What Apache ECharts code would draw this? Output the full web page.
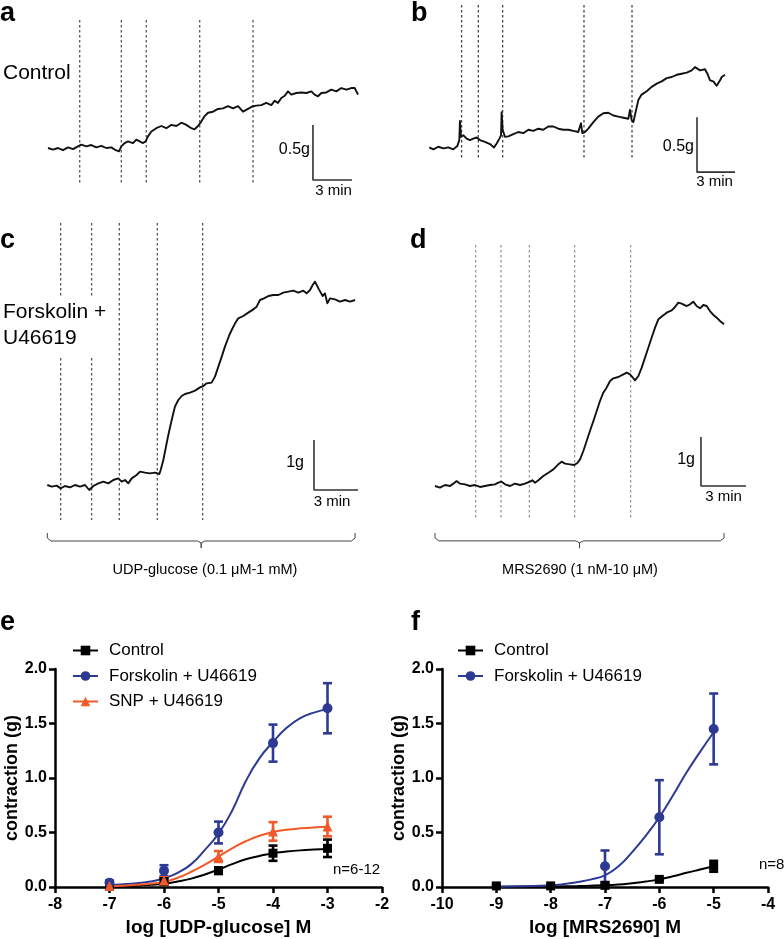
<!DOCTYPE html>
<html><head><meta charset="utf-8">
<script src="https://cdn.jsdelivr.net/npm/echarts@6/dist/echarts.min.js"></script>
<style>html,body{margin:0;padding:0;background:#fff}#c{width:784px;height:939px}</style>
</head><body><div id="c"></div>
<script>
const FONT = '"Liberation Sans", Arial, Helvetica, sans-serif';

// ---------- isometric tension traces: [time (min), tension (g) relative to start] ----------
const traceA = [[0,0],[0.38,-0.015],[0.77,0],[1.15,-0.02],[1.54,0.006],[1.92,-0.01],[2.31,0.015],[2.56,0.03],[2.95,0.015],[3.33,0.027],[3.72,0.006],[4.10,0.02],[4.49,0],[4.87,0.006],[5.21,-0.02],[5.46,-0.03],[5.64,0.015],[5.90,0.045],[6.15,0.06],[6.54,0.045],[6.79,0.076],[7.05,0.06],[7.31,0.045],[7.51,0.06],[7.69,0.106],[7.95,0.15],[8.33,0.18],[8.72,0.20],[9.10,0.18],[9.49,0.21],[9.87,0.20],[10.26,0.23],[10.64,0.21],[11.03,0.18],[11.28,0.17],[11.54,0.20],[11.79,0.24],[12.05,0.29],[12.31,0.32],[12.69,0.33],[13.08,0.355],[13.46,0.36],[13.85,0.38],[14.23,0.36],[14.62,0.38],[15.0,0.33],[15.38,0.355],[15.77,0.38],[16.03,0.385],[16.41,0.39],[16.79,0.41],[17.18,0.39],[17.44,0.43],[17.69,0.41],[17.95,0.455],[18.21,0.475],[18.46,0.515],[18.72,0.485],[19.10,0.50],[19.49,0.505],[19.87,0.50],[20.26,0.515],[20.51,0.485],[20.77,0.47],[21.03,0.50],[21.41,0.505],[21.79,0.53],[22.18,0.515],[22.56,0.545],[22.95,0.53],[23.33,0.545],[23.59,0.545],[23.85,0.485]];
const traceB = [[0,0],[0.32,-0.018],[0.71,0.006],[1.11,-0.009],[1.50,0],[1.89,-0.018],[2.21,0.012],[2.37,0.067],[2.42,0.24],[2.50,0.097],[2.68,0.11],[2.95,0.08],[3.21,0.067],[3.47,0.08],[3.74,0.09],[4.0,0.067],[4.39,0.05],[4.79,0.03],[5.11,0],[5.32,0.036],[5.53,0.08],[5.66,0.11],[5.71,0.32],[5.79,0.16],[5.97,0.097],[6.24,0.10],[6.63,0.12],[7.03,0.14],[7.42,0.13],[7.82,0.16],[8.21,0.15],[8.61,0.17],[9.0,0.16],[9.39,0.19],[9.79,0.19],[10.18,0.17],[10.58,0.16],[10.97,0.16],[11.37,0.15],[11.76,0.14],[11.97,0.22],[12.08,0.13],[12.29,0.14],[12.55,0.17],[12.95,0.23],[13.34,0.28],[13.74,0.31],[14.13,0.315],[14.53,0.29],[14.92,0.28],[15.32,0.27],[15.71,0.26],[15.84,0.34],[15.97,0.25],[16.11,0.23],[16.32,0.34],[16.5,0.43],[16.76,0.48],[17.16,0.51],[17.55,0.55],[17.95,0.58],[18.34,0.60],[18.74,0.63],[19.13,0.64],[19.53,0.66],[19.92,0.67],[20.32,0.68],[20.71,0.70],[20.97,0.73],[21.37,0.70],[21.76,0.71],[21.95,0.67],[22.16,0.61],[22.42,0.60],[22.68,0.56],[22.95,0.61],[23.08,0.64],[23.34,0.66]];
const traceC = [[0,0],[0.30,-0.033],[0.64,-0.013],[0.91,-0.067],[1.20,-0.02],[1.55,-0.047],[1.89,0],[2.23,-0.033],[2.57,0],[2.86,-0.1],[3.14,-0.02],[3.48,0.033],[3.82,0.067],[4.16,0.033],[4.5,0.1],[4.84,0.133],[5.07,0.067],[5.30,0.1],[5.52,0.033],[5.75,0.133],[6.09,0.2],[6.32,0.267],[6.66,0.247],[7.0,0.233],[7.34,0.247],[7.64,0.22],[7.73,0.3],[7.91,0.5],[8.09,0.767],[8.25,1.0],[8.48,1.3],[8.70,1.567],[8.93,1.70],[9.16,1.78],[9.39,1.82],[9.73,1.847],[10.07,1.887],[10.41,1.953],[10.64,1.98],[10.86,2.033],[11.20,2.047],[11.43,2.167],[11.66,2.367],[11.89,2.567],[12.11,2.767],[12.41,3.0],[12.57,3.1],[12.80,3.233],[13.02,3.333],[13.36,3.38],[13.70,3.447],[14.05,3.513],[14.27,3.567],[14.5,3.70],[14.77,3.733],[15.07,3.78],[15.41,3.80],[15.75,3.80],[16.09,3.847],[16.43,3.867],[16.77,3.887],[17.11,3.847],[17.45,3.887],[17.68,3.833],[17.91,3.90],[18.09,4.0],[18.25,4.067],[18.48,3.933],[18.77,3.78],[18.93,3.833],[19.09,3.633],[19.27,3.733],[19.61,3.713],[19.95,3.667],[20.30,3.70],[20.64,3.667],[20.98,3.70]];
const traceD = [[0,0],[0.33,-0.034],[0.67,0.02],[1.0,0],[1.22,0.048],[1.44,0.10],[1.67,0.048],[2.0,0.034],[2.33,0],[2.67,0.02],[3.0,-0.02],[3.33,0],[3.67,0.02],[4.0,0.034],[4.22,0.068],[4.44,0.088],[4.67,0.034],[5.0,0],[5.33,0.048],[5.67,0.02],[6.0,0.048],[6.33,0.088],[6.49,0.116],[6.67,0.068],[6.89,0.116],[7.22,0.204],[7.56,0.272],[7.89,0.34],[8.22,0.442],[8.44,0.497],[8.67,0.456],[9.0,0.442],[9.29,0.429],[9.51,0.476],[9.67,0.544],[9.89,0.714],[10.11,0.918],[10.33,1.122],[10.56,1.327],[10.78,1.531],[11.0,1.735],[11.22,1.905],[11.44,2.007],[11.67,2.143],[11.89,2.197],[12.22,2.224],[12.56,2.279],[12.78,2.313],[13.0,2.279],[13.16,2.224],[13.33,2.156],[13.56,2.245],[13.78,2.415],[14.0,2.619],[14.22,2.823],[14.44,3.027],[14.67,3.231],[14.89,3.401],[15.16,3.469],[15.44,3.537],[15.78,3.585],[16.0,3.653],[16.22,3.741],[16.44,3.721],[16.78,3.673],[17.0,3.707],[17.22,3.762],[17.44,3.673],[17.67,3.626],[17.89,3.694],[18.11,3.673],[18.33,3.571],[18.56,3.490],[18.78,3.435],[19.0,3.367],[19.27,3.299]];

// agonist addition times (min)
const addsA = [2.44, 5.64, 7.56, 11.67, 15.77];
const addsB = [2.55, 3.87, 5.79, 12.21, 16.0];
const addsC = [0.91, 3.02, 4.91, 7.5, 10.59];
const addsD = [2.71, 4.4, 6.29, 9.31, 13.04];

// ---------- concentration-response data ----------
const logUDP = [-7, -6, -5, -4, -3];
const eCtrlMean = [0.015, 0.05, 0.15, 0.31, 0.355];
const eCtrlSem  = [0.01, 0.03, 0.03, 0.07, 0.08];
const eFskMean  = [0.04, 0.15, 0.5, 1.32, 1.64];
const eFskSem   = [0.02, 0.05, 0.1, 0.17, 0.23];
const eSnpMean  = [0.01, 0.06, 0.28, 0.51, 0.555];
const eSnpSem   = [0.01, 0.03, 0.05, 0.085, 0.09];
// fitted curves
const eCtrlFit = [[-7,0.005],[-6.75,0.008],[-6.5,0.012],[-6.25,0.02],[-6,0.03],[-5.75,0.05],[-5.5,0.077],[-5.25,0.115],[-5,0.16],[-4.75,0.21],[-4.5,0.255],[-4.25,0.285],[-4,0.31],[-3.75,0.325],[-3.5,0.336],[-3.25,0.343],[-3,0.348]];
const eFskFit  = [[-7,0.018],[-6.75,0.025],[-6.5,0.035],[-6.25,0.05],[-6,0.08],[-5.75,0.13],[-5.5,0.21],[-5.25,0.34],[-5,0.49],[-4.75,0.70],[-4.5,0.97],[-4.25,1.18],[-4,1.33],[-3.75,1.46],[-3.5,1.55],[-3.25,1.60],[-3,1.63]];
const eSnpFit  = [[-7,0.006],[-6.75,0.012],[-6.5,0.02],[-6.25,0.03],[-6,0.046],[-5.75,0.085],[-5.5,0.14],[-5.25,0.205],[-5,0.28],[-4.75,0.355],[-4.5,0.42],[-4.25,0.47],[-4,0.505],[-3.75,0.525],[-3.5,0.538],[-3.25,0.547],[-3,0.552]];

const logMRSCtrl = [-9, -8, -7, -6, -5];
const fCtrlMean = [0.01, 0.01, 0.015, 0.07, 0.19];
const fCtrlSem  = [0.005, 0.005, 0.01, 0.01, 0.05];
const logMRSFsk = [-7, -6, -5];
const fFskMean  = [0.19, 0.64, 1.45];
const fFskSem   = [0.145, 0.34, 0.325];
const fCtrlFit = [[-9,0.003],[-8.5,0.004],[-8,0.006],[-7.5,0.009],[-7,0.015],[-6.75,0.022],[-6.5,0.035],[-6.25,0.05],[-6,0.07],[-5.75,0.098],[-5.5,0.13],[-5.25,0.16],[-5,0.19]];
const fFskFit  = [[-9,0.003],[-8.5,0.007],[-8,0.015],[-7.75,0.027],[-7.5,0.046],[-7.25,0.07],[-7,0.107],[-6.75,0.19],[-6.5,0.32],[-6.25,0.47],[-6,0.64],[-5.75,0.84],[-5.5,1.05],[-5.25,1.24],[-5,1.42]];

// ---------- layout ----------
const BLUE = '#2d3a94', ORANGE = '#f15a29', BLACK = '#000';
const grids = [
  {left:48, top:16, width:312, height:176},
  {left:429.3, top:0, width:329.4, height:191.4},
  {left:47.3, top:215, width:337.4, height:340},
  {left:435, top:231.2, width:330, height:323.4},
  {left:55, top:669, width:327, height:218},
  {left:442, top:669, width:326, height:218}
];
const traceLayout = [
  {trace:traceA, adds:addsA, x:[0,24], y:[-0.4,1.2],  dash:[1.164,-0.336], dashColor:'#555', bar:{x:20.38,y:-0.291,w:3,h:0.5}},
  {trace:traceB, adds:addsB, x:[0,26], y:[-0.4,1.34], dash:[1.294,-0.097], dashColor:'#444', bar:{x:21.13,y:-0.225,w:3,h:0.5}},
  {trace:traceC, adds:addsC, x:[0,23], y:[-1.4,5.4],  dash:[5.24,-0.7],    dashColor:'#555', bar:{x:18.18,y:-0.1,w:3,h:1}, brace:[-0.96,-1.12,-1.26]},
  {trace:traceD, adds:addsD, x:[0,22], y:[-1.4,5.2],  dash:[4.92,-0.69],   dashColor:'#999', bar:{x:17.73,y:0,w:3,h:1}, brace:[-0.96,-1.12,-1.27]}
];

const xAxes = [], yAxes = [], series = [];
traceLayout.forEach((p, i) => {
  xAxes.push({type:'value', gridIndex:i, min:p.x[0], max:p.x[1], show:false});
  yAxes.push({type:'value', gridIndex:i, min:p.y[0], max:p.y[1], show:false});
  p.adds.forEach(t => series.push({type:'line', xAxisIndex:i, yAxisIndex:i, silent:true, symbol:'none', z:1,
    data:[[t,p.dash[0]],[t,p.dash[1]]], lineStyle:{color:p.dashColor, width:1.3, type:[2.5,2.5]}}));
  series.push({type:'line', xAxisIndex:i, yAxisIndex:i, silent:true, symbol:'none', z:3,
    data:p.trace, lineStyle:{color:'#111', width:1.9, join:'round'}});
  const b = p.bar;
  series.push({type:'line', xAxisIndex:i, yAxisIndex:i, silent:true, symbol:'none', z:3,
    data:[[b.x,b.y+b.h],[b.x,b.y],[b.x+b.w,b.y]], lineStyle:{color:'#333', width:1.6}});
  if (p.brace) {
    const t0 = p.trace[0][0], t1 = p.trace[p.trace.length-1][0], tc = (t0+t1)/2, d = 0.25;
    const [ye, ym, yt] = p.brace;
    series.push({type:'line', xAxisIndex:i, yAxisIndex:i, silent:true, symbol:'none', z:3, clip:false,
      data:[[t0,ye],[t0,ym+0.06],[t0+d,ym],[tc-d,ym],[tc,ym-0.04],[tc,yt],[tc,ym-0.04],[tc+d,ym],[t1-d,ym],[t1,ym+0.06],[t1,ye]],
      lineStyle:{color:'#444', width:1}});
  }
});

function drAxes(gi, xmin, xmax, xname) {
  xAxes.push({type:'value', gridIndex:gi, min:xmin, max:xmax, interval:1,
    axisLine:{onZero:false, lineStyle:{color:'#000', width:2.5}},
    axisTick:{length:6, lineStyle:{color:'#000', width:2.5}},
    axisLabel:{color:'#000', fontFamily:FONT, fontWeight:'bold', fontSize:16, margin:10},
    splitLine:{show:false},
    name:xname, nameLocation:'middle', nameGap:31,
    nameTextStyle:{color:'#000', fontFamily:FONT, fontWeight:'bold', fontSize:19}});
  yAxes.push({type:'value', gridIndex:gi, min:0, max:2, interval:0.5,
    axisLine:{show:true, lineStyle:{color:'#000', width:2.5}},
    axisTick:{show:true, length:6, lineStyle:{color:'#000', width:2.5}},
    axisLabel:{color:'#000', fontFamily:FONT, fontWeight:'bold', fontSize:16, margin:8, formatter:v=>v.toFixed(1)},
    splitLine:{show:false},
    name:'contraction (g)', nameLocation:'middle', nameGap:31,
    nameTextStyle:{color:'#000', fontFamily:FONT, fontWeight:'bold', fontSize:18}});
}
drAxes(4, -8, -2, 'log [UDP-glucose] M');
drAxes(5, -10, -4, 'log [MRS2690] M');

function fitSeries(ai, name, data, color, symbol) {
  return {type:'line', name, xAxisIndex:ai, yAxisIndex:ai, data, smooth:0.5, symbol, showSymbol:false,
    silent:true, z:2, lineStyle:{color, width:2}, itemStyle:{color}};
}
function ptSeries(ai, x, mean, color, symbol, size) {
  return {type:'scatter', xAxisIndex:ai, yAxisIndex:ai, silent:true, z:5, symbol, symbolSize:size,
    itemStyle:{color, opacity:1}, data:x.map((v,k)=>[v, mean[k]])};
}
function errSeries(ai, x, mean, sem, color) {
  return {type:'custom', xAxisIndex:ai, yAxisIndex:ai, silent:true, z:4,
    data:x.map((v,k)=>[v, mean[k]-sem[k], mean[k]+sem[k]]),
    encode:{x:0, y:[1,2]},
    renderItem:(params, api) => {
      const lo = api.coord([api.value(0), api.value(1)]);
      const hi = api.coord([api.value(0), api.value(2)]);
      const w = 4.5, st = {stroke:color, lineWidth:2.6};
      return {type:'group', children:[
        {type:'line', shape:{x1:lo[0], y1:lo[1], x2:hi[0], y2:hi[1]}, style:st},
        {type:'line', shape:{x1:hi[0]-w, y1:hi[1], x2:hi[0]+w, y2:hi[1]}, style:st},
        {type:'line', shape:{x1:lo[0]-w, y1:lo[1], x2:lo[0]+w, y2:lo[1]}, style:st}
      ]};
    }};
}

series.push(
  fitSeries(4, 'Control', eCtrlFit, BLACK, 'rect'),
  fitSeries(4, 'Forskolin + U46619', eFskFit, BLUE, 'circle'),
  fitSeries(4, 'SNP + U46619', eSnpFit, ORANGE, 'triangle'),
  errSeries(4, logUDP, eCtrlMean, eCtrlSem, BLACK),
  errSeries(4, logUDP, eFskMean, eFskSem, BLUE),
  errSeries(4, logUDP, eSnpMean, eSnpSem, ORANGE),
  ptSeries(4, logUDP, eCtrlMean, BLACK, 'rect', 9),
  ptSeries(4, logUDP, eFskMean, BLUE, 'circle', 10),
  ptSeries(4, logUDP, eSnpMean, ORANGE, 'triangle', 10),
  fitSeries(5, 'Control', fCtrlFit, BLACK, 'rect'),
  fitSeries(5, 'Forskolin + U46619', fFskFit, BLUE, 'circle'),
  errSeries(5, logMRSCtrl, fCtrlMean, fCtrlSem, BLACK),
  errSeries(5, logMRSFsk, fFskMean, fFskSem, BLUE),
  ptSeries(5, logMRSCtrl, fCtrlMean, BLACK, 'rect', 9),
  ptSeries(5, logMRSFsk, fFskMean, BLUE, 'circle', 10)
);

const legendCommon = {orient:'vertical', padding:0, itemWidth:25, itemHeight:12, itemGap:8.5, selectedMode:false,
  textStyle:{color:'#000', fontFamily:FONT, fontSize:17, lineHeight:16, padding:[0,0,0,6]}};

function txt(text, x, y, size, opt) {
  return {type:'text', z:100, silent:true, style:{text, x, y, fill:'#000',
    font:(opt && opt.bold ? 'bold ' : '') + size + 'px ' + FONT,
    textAlign:(opt && opt.align) || 'left', textVerticalAlign:'middle'}};
}

const graphic = [
  {type:'rect', z:90, silent:true, shape:{x:0, y:297, width:110, height:61}, style:{fill:'#fff'}},
  txt('a', 0, 13.5, 27, {bold:true}),
  txt('b', 411, 13.5, 27, {bold:true}),
  txt('c', 0, 240.5, 27, {bold:true}),
  txt('d', 410, 240.5, 27, {bold:true}),
  txt('e', 0, 622.5, 27, {bold:true}),
  txt('f', 411, 622.5, 27, {bold:true}),
  txt('Control', 3, 73.6, 21),
  txt('Forskolin +', 3, 312.6, 21),
  txt('U46619', 3, 338.3, 21),
  txt('0.5g', 310, 149.5, 16, {align:'right'}),
  txt('3 min', 333.5, 190.7, 15, {align:'center'}),
  txt('0.5g', 694, 146.5, 16, {align:'right'}),
  txt('3 min', 714.5, 181.7, 15, {align:'center'}),
  txt('1g', 304, 462.5, 16, {align:'right'}),
  txt('3 min', 332, 501.7, 15, {align:'center'}),
  txt('1g', 695, 459.5, 16, {align:'right'}),
  txt('3 min', 723.5, 496.7, 15, {align:'center'}),
  txt('UDP-glucose (0.1 μM-1 mM)', 205, 570, 14.5, {align:'center'}),
  txt('MRS2690 (1 nM-10 μM)', 580, 570, 14.5, {align:'center'}),
  txt('n=6-12', 333, 869.8, 15),
  txt('n=8', 759, 865, 15)
];

const chart = echarts.init(document.getElementById('c'), null, {renderer:'canvas'});
chart.setOption({
  animation:false,
  backgroundColor:'#fff',
  textStyle:{fontFamily:FONT},
  grid:grids.map(g => Object.assign({containLabel:false}, g)),
  xAxis:xAxes, yAxis:yAxes,
  legend:[
    Object.assign({}, legendCommon, {left:72, top:642, data:['Control','Forskolin + U46619','SNP + U46619']}),
    Object.assign({}, legendCommon, {left:457, top:642, data:['Control','Forskolin + U46619']})
  ],
  graphic:{elements:graphic},
  series
});
</script></body></html>
